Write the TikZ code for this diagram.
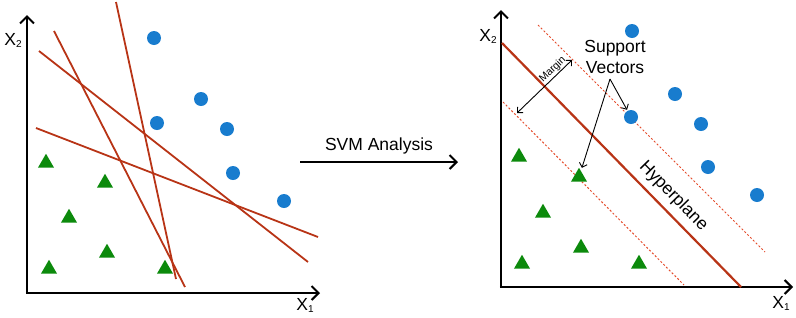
\documentclass[tikz,border=0pt]{standalone}
\usepackage{fontspec}
\setmainfont{Liberation Sans}
\usepackage{xcolor}
\usetikzlibrary{shapes.geometric,arrows.meta}
\definecolor{ptblue}{RGB}{24,124,206}
\definecolor{ptgreen}{RGB}{12,138,12}
\definecolor{sepred}{RGB}{184,52,22}
\definecolor{marginred}{RGB}{228,76,44}
\newcommand{\axlabel}[1]{X\raisebox{-2pt}{\fontsize{10}{10}\selectfont #1}}

\begin{document}
\begin{tikzpicture}[x=1pt,y=-1pt,
    axis/.style={line width=2.4pt,-{Straight Barb[length=7pt,width=14pt,line width=2pt]}},
    dot/.style={circle,fill=ptblue,minimum size=14pt,inner sep=0pt},
    tri/.style={regular polygon,regular polygon sides=3,fill=ptgreen,minimum size=18.5pt,inner sep=0pt},
    sep/.style={sepred,line width=1.8pt},
    marg/.style={marginred,line width=1pt,dash pattern=on 2pt off 2pt},
    thin arrow/.style={line width=0.9pt,{Straight Barb[length=4pt,width=8pt]}-{Straight Barb[length=4pt,width=8pt]}},
    txt/.style={font=\fontsize{17.5}{20.5}\selectfont,inner sep=0pt,text=black}]
  \useasboundingbox (0,0) rectangle (796,317);
  % before
  \coordinate (O) at (27,293);
  \coordinate (Y) at (27,15);
  \coordinate (X) at (320,293);
  \draw [axis] (O) to (Y);
  \draw [axis] ([xshift=-1.2pt]O) to (X);
  \node [txt] (Ylab) at (13,40) {\axlabel{2}};
  \node [txt] (Xlab) at (305,305) {\axlabel{1}};
  \draw [sep] (116,2) to (176,279);
  \draw [sep] (54,31) to (185,287);
  \draw [sep] (39,51) to (308,262);
  \draw [sep] (36,128) to (318,237);
  \node [dot] (A1) at (154,38) {};
  \node [dot] (A2) at (201,99) {};
  \node [dot] (A3) at (157,123) {};
  \node [dot] (A4) at (227,129) {};
  \node [dot] (A5) at (233,173) {};
  \node [dot] (A6) at (284,201) {};
  \node [tri] (B1) at (46,163) {};
  \node [tri] (B2) at (105,183) {};
  \node [tri] (B3) at (69,218) {};
  \node [tri] (B4) at (107,253) {};
  \node [tri] (B5) at (49,269) {};
  \node [tri] (B6) at (165,269) {};
  % arrow
  \coordinate (S) at (300,162);
  \coordinate (E) at (458,162);
  \draw [line width=2pt,-{Straight Barb[length=7pt,width=14pt]}] (S) to node [txt,above=7pt] (T) {SVM Analysis} (E);
  % after
  \coordinate (O') at (501,287);
  \coordinate (Y') at (501,10);
  \coordinate (X') at (793,287);
  \draw [axis] (O') to (Y');
  \draw [axis] ([xshift=-1.2pt]O') to (X');
  \node [txt] (Ylab') at (488,36) {\axlabel{2}};
  \node [txt] (Xlab') at (781,303) {\axlabel{1}};
  \draw [marg] (538,25) to (765,252);
  \draw [marg] (503,102) to (684,285);
  \draw [sep,line width=2.2pt] (502,43) to node [txt,pos=0.672,sloped,above=6pt] (H) {Hyperplane} (741,287);
  \node [dot] (C1) at (632,31) {};
  \node [dot] (C2) at (675,94) {};
  \node [dot] (C3) at (631,117) {};
  \node [dot] (C4) at (701,124) {};
  \node [dot] (C5) at (708,167) {};
  \node [dot] (C6) at (757,195) {};
  \node [tri] (D1) at (519,157) {};
  \node [tri] (D2) at (579,177) {};
  \node [tri] (D3) at (543,213) {};
  \node [tri] (D4) at (581,248) {};
  \node [tri] (D5) at (522,264) {};
  \node [tri] (D6) at (639,264) {};
  \coordinate (M1) at (517,113);
  \coordinate (M2) at (572,60);
  \draw [thin arrow] (M1) to node [pos=0.73,sloped,above=1pt,inner sep=0pt,font=\fontsize{10.5}{12}\selectfont] (ML) {Margin} (M2);
  \node [txt,align=center] (SV) at (615,57) {Support\\Vectors};
  \coordinate (V) at (610,79);
  \draw [line width=0.9pt,-{Straight Barb[length=4pt,width=8pt]},shorten >=1pt] (V) to (C3);
  \draw [line width=0.9pt,-{Straight Barb[length=4pt,width=8pt]},shorten >=3pt] (V) to (D2);
\end{tikzpicture}
\end{document}
